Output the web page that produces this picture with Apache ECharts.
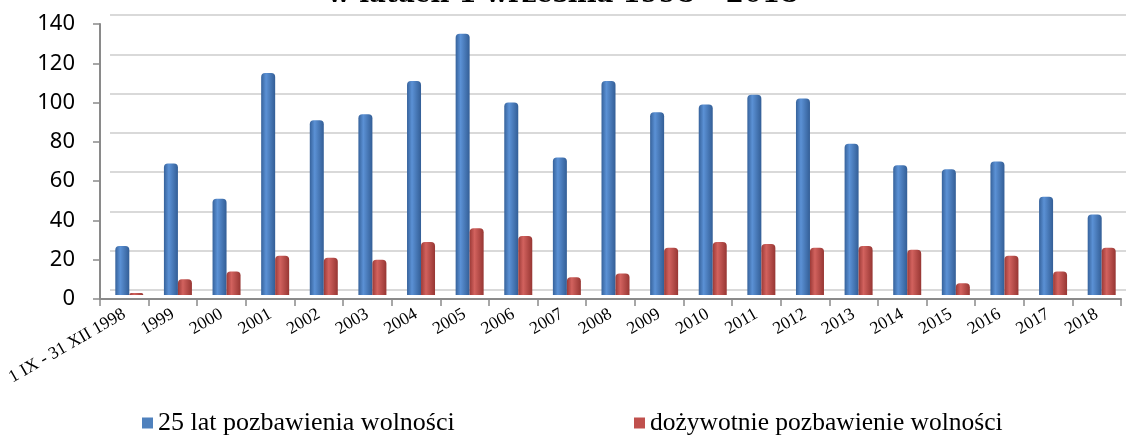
<!DOCTYPE html>
<html><head><meta charset="utf-8">
<script src="https://cdn.jsdelivr.net/npm/echarts@6/dist/echarts.min.js"></script>
<style>html,body{margin:0;padding:0;background:#fff}#c{width:1126px;height:435px}</style>
</head><body><div id="c"></div>
<script>
const titleText = 'w latach 1 września 1998 – 2018';
const categories = ['1 IX - 31 XII 1998','1999','2000','2001','2002','2003','2004','2005','2006','2007','2008','2009','2010','2011','2012','2013','2014','2015','2016','2017','2018'];
const seriesNames = ['25 lat pozbawienia wolności','dożywotnie pozbawienie wolności'];
const years25 = [25,67,49,113,89,92,109,133,98,70,109,93,97,102,100,77,66,64,68,50,41];
const lifeSentence = [1,8,12,20,19,18,27,34,30,9,11,24,27,26,24,25,23,6,20,12,24];
const yTicks = {min:0, max:140, interval:20};

const chart = echarts.init(document.getElementById('c'));
const grad = (a,b,c)=>new echarts.graphic.LinearGradient(0,0,1,0,[{offset:0,color:a},{offset:0.35,color:b},{offset:1,color:c}]);
const axisGray = '#8a8a8a';
chart.setOption({
  animation:false,
  title:{text:titleText,left:'center',top:-23,textStyle:{fontFamily:'DejaVu Serif',fontWeight:'bold',fontSize:26,color:'#000'}},
  legend:[
    {data:[{name:seriesNames[0],itemStyle:{color:'#4f81bd'}}],left:137,top:405,icon:'rect',itemWidth:11,itemHeight:11,itemGap:6,textStyle:{fontFamily:'Liberation Serif',fontSize:26,color:'#000'}},
    {data:[{name:seriesNames[1],itemStyle:{color:'#c0504d'}}],left:629,top:405,icon:'rect',itemWidth:11,itemHeight:11,itemGap:6,textStyle:{fontFamily:'Liberation Serif',fontSize:25.5,color:'#000'}}
  ],
  grid:[
    {left:110,right:0,top:15,bottom:145},
    {left:100,right:5,top:24,bottom:136},
    {left:105,right:0,top:20,bottom:140}
  ],
  xAxis:[
    {gridIndex:0,type:'category',data:categories,show:false},
    {gridIndex:1,type:'category',data:categories,
      axisLine:{lineStyle:{color:axisGray,width:2}},
      axisTick:{show:true,length:7,lineStyle:{color:axisGray,width:1.5}},
      axisLabel:{interval:0,rotate:30,margin:14,fontFamily:'Liberation Serif',fontSize:17.5,color:'#000'}},
    {gridIndex:2,type:'category',data:categories,show:false}
  ],
  yAxis:[
    {gridIndex:0,type:'value',min:yTicks.min,max:yTicks.max,interval:yTicks.interval,
      axisLine:{show:false},axisTick:{show:false},axisLabel:{show:false},
      splitLine:{show:true,lineStyle:{color:'#d9d9d9',width:2}}},
    {gridIndex:1,type:'value',min:yTicks.min,max:yTicks.max,interval:yTicks.interval,
      axisLine:{show:true,lineStyle:{color:axisGray,width:2}},
      axisTick:{show:true,length:7,lineStyle:{color:axisGray,width:1.5}},
      axisLabel:{margin:25,fontFamily:'Noto Sans',fontSize:22,color:'#000'},
      splitLine:{show:false}},
    {gridIndex:2,type:'value',min:yTicks.min,max:yTicks.max,interval:yTicks.interval,show:false,splitLine:{show:false}}
  ],
  series:[
    {name:seriesNames[0],type:'bar',xAxisIndex:2,yAxisIndex:2,data:years25,barWidth:14,barGap:'0%',
      itemStyle:{color:grad('#36629b','#5b91d5','#335e96'),borderRadius:[4,4,0,0]}},
    {name:seriesNames[1],type:'bar',xAxisIndex:2,yAxisIndex:2,data:lifeSentence,barWidth:14,barGap:'0%',
      itemStyle:{color:grad('#9c3a37','#d2625e','#973633'),borderRadius:[4,4,0,0]}}
  ]
});
</script></body></html>
